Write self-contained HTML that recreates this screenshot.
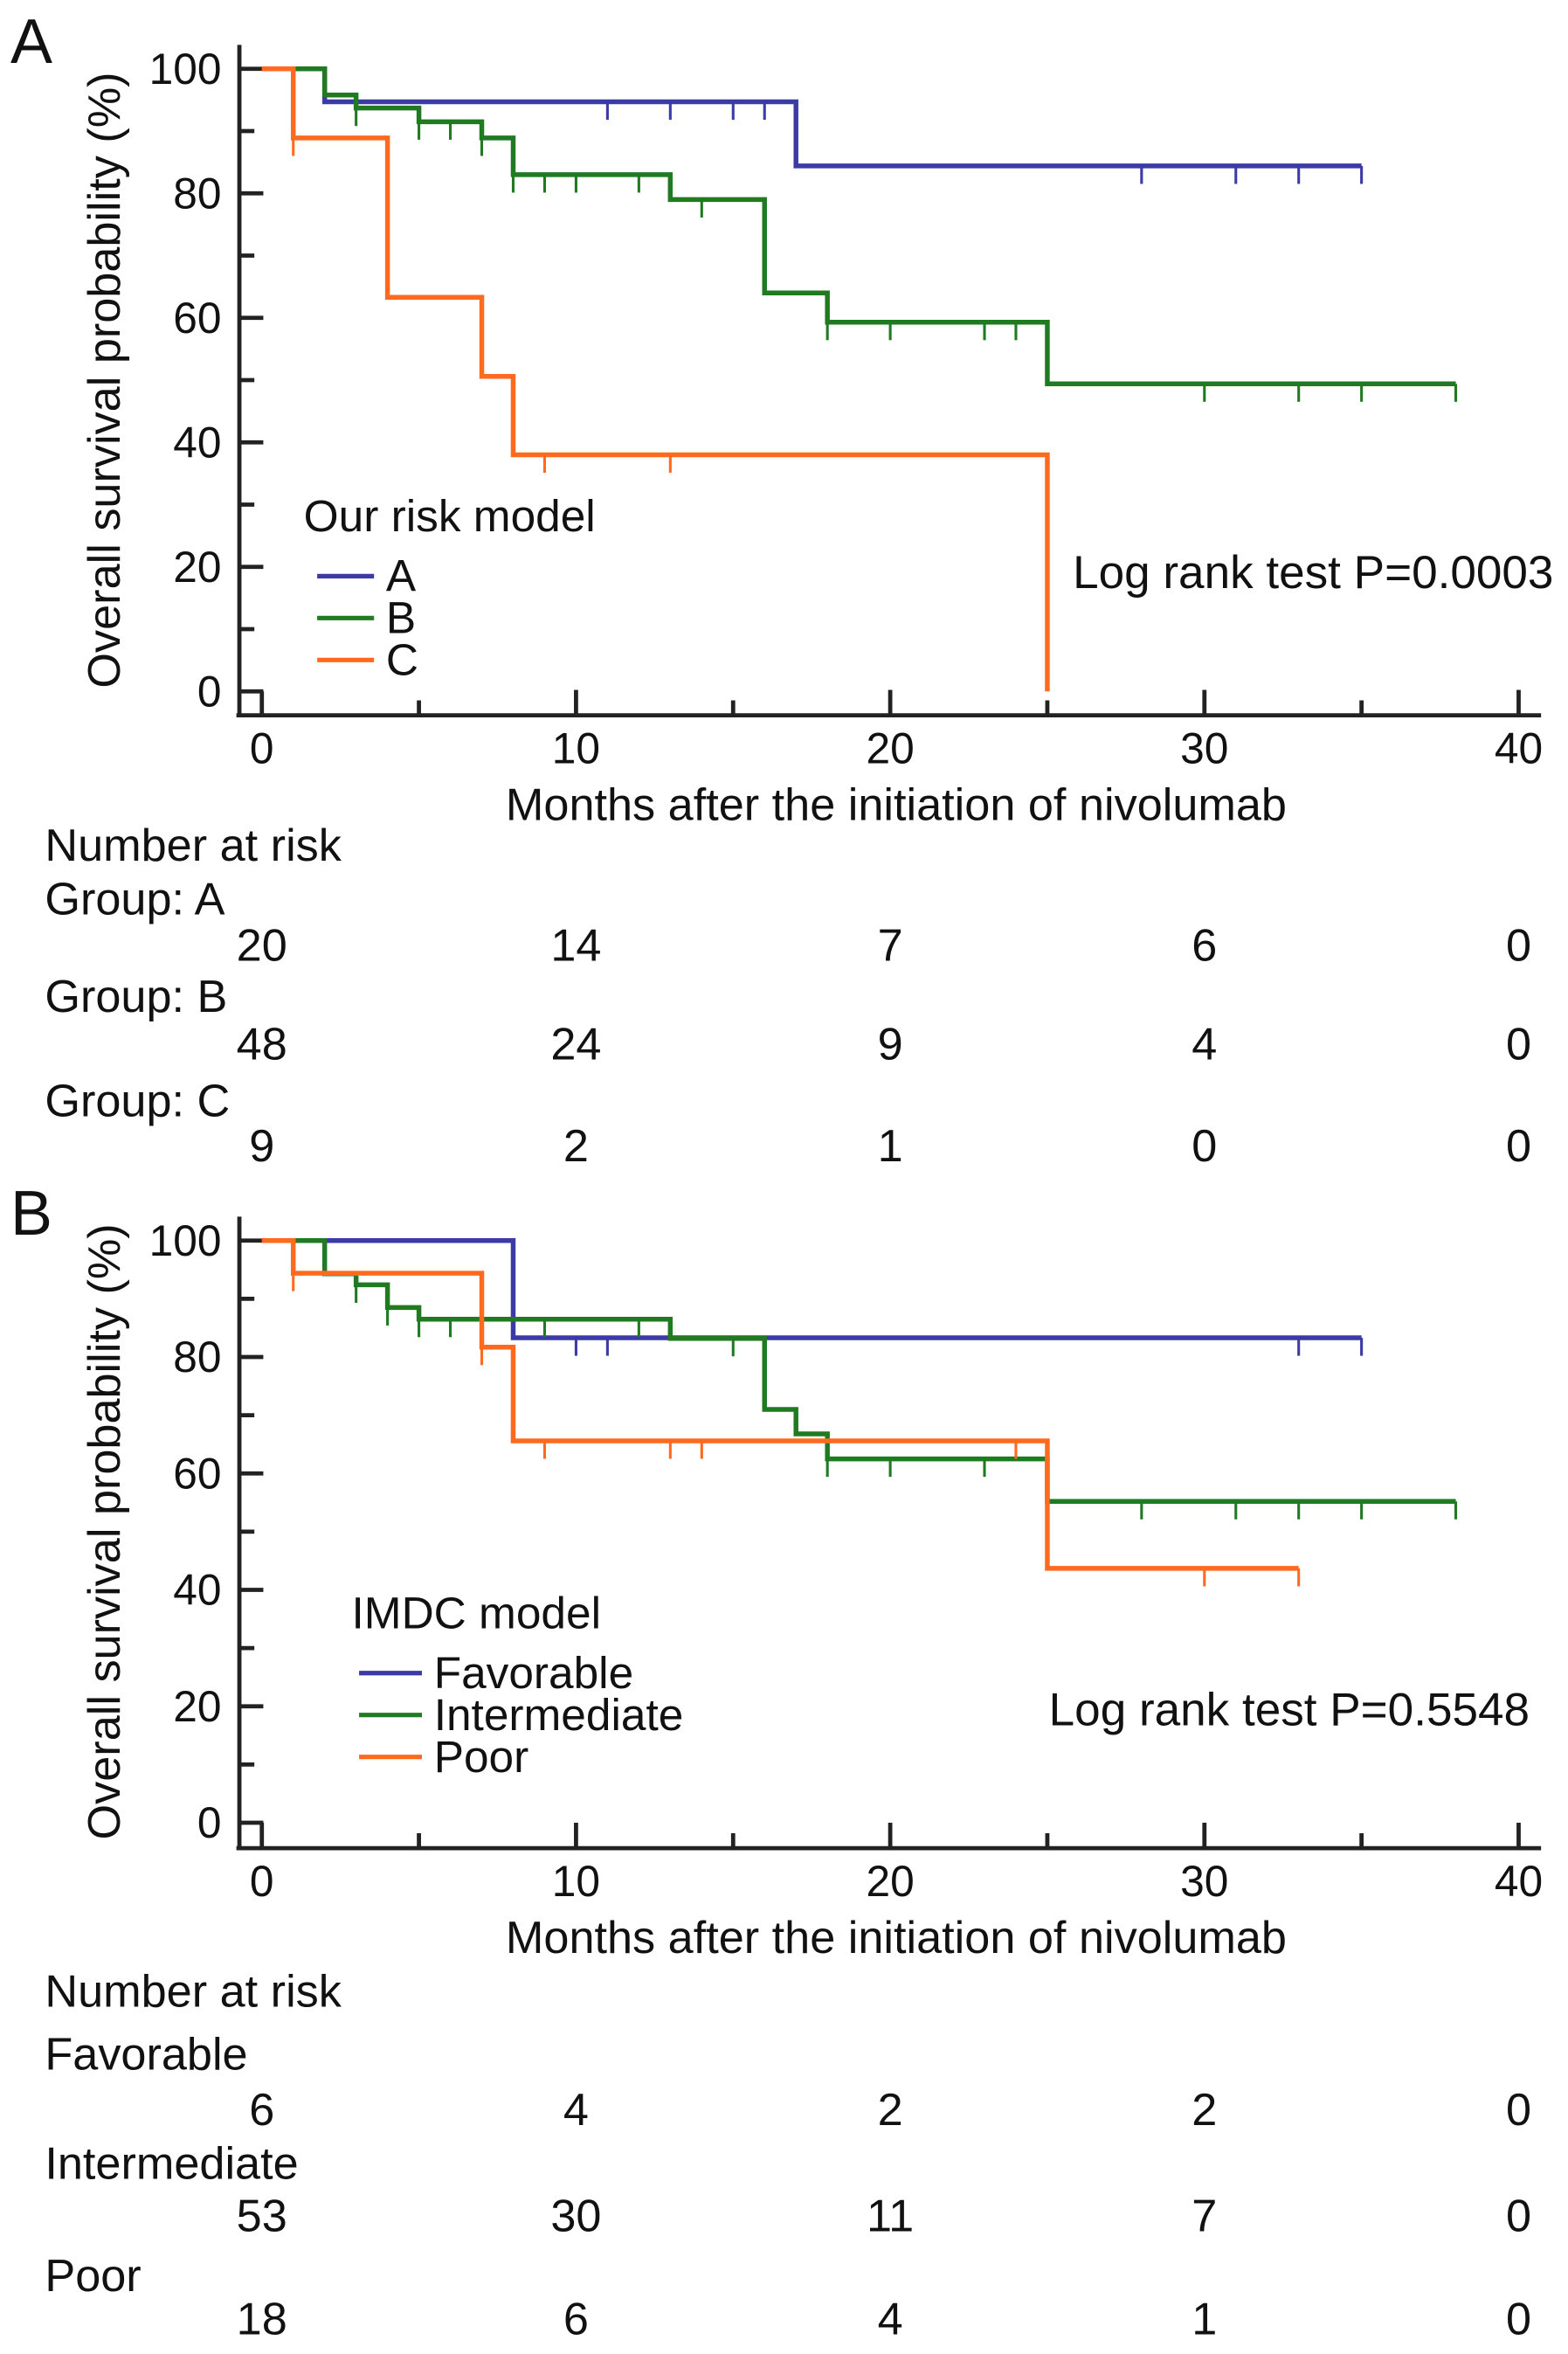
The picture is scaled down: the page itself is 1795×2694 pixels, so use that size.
<!DOCTYPE html>
<html><head><meta charset="utf-8"><style>
html,body{margin:0;padding:0;background:#fff;width:1795px;height:2694px;overflow:hidden}
svg{display:block}
text{font-family:"Liberation Sans",sans-serif;fill:#111}
</style></head><body>
<svg id="fig" width="1795" height="2694" viewBox="0 0 1048 1573" preserveAspectRatio="none" xmlns="http://www.w3.org/2000/svg"></svg>
<script>
// ---------- data ----------
const xTicks = [0,10,20,30,40];
const yTicks = [0,20,40,60,80,100];
// Panel A
const aNames = ["A","B","C"];
const aTimesA = [0,2,17,35];           const aSurvA = [100,94.7,84.4,84.4];
const aCensA = [11,13,15,16,28,31,33,35];
const aTimesB = [0,2,3,5,7,8,13,16,18,25,38]; const aSurvB = [100,95.8,93.7,91.5,88.9,83,79,64,59.3,49.4,49.4];
const aCensB = [3,5,6,7,8,9,10,12,14,18,20,23,24,30,33,35,38];
const aTimesC = [0,1,4,7,8,25,25];     const aSurvC = [100,88.9,63.3,50.6,38,0,0];
const aCensC = [1,9,13];
const aRiskA = [20,14,7,6,0];
const aRiskB = [48,24,9,4,0];
const aRiskC = [9,2,1,0,0];
// Panel B
const bNames = ["Favorable","Intermediate","Poor"];
const bTimesF = [0,8,35];              const bSurvF = [100,83.3,83.3];
const bCensF = [10,11,33,35];
const bTimesI = [0,2,3,4,5,13,16,17,18,25,38]; const bSurvI = [100,94.3,92.4,88.5,86.5,83.2,71,66.8,62.5,55.2,55.2];
const bCensI = [3,4,5,6,9,12,15,18,20,23,28,31,33,35,38];
const bTimesP = [0,1,7,8,25,33];       const bSurvP = [100,94.4,81.7,65.6,43.7,43.7];
const bCensP = [1,7,9,13,14,24,30,33];
const bRiskF = [6,4,2,2,0];
const bRiskI = [53,30,11,7,0];
const bRiskP = [18,6,4,1,0];

const colors = ["#3b3aa6","#1f7a22","#ff6a1f"];
const NS = "http://www.w3.org/2000/svg";
const svg = document.getElementById("fig");
function mk(tag, attrs, parent){const e=document.createElementNS(NS,tag);for(const k in attrs)e.setAttribute(k,attrs[k]);(parent||svg).appendChild(e);return e;}

function panel(P){
  const g = mk("g",{});
  
  
  const xs = t => 175 + t*21;
  const ys = v => P.y0 - v*(P.y0-P.y100)/100;
  const lt = mk("text",{x:7,y:P.y100-4,"font-size":42},g); lt.textContent=P.id.toUpperCase();
  
  
  // axes
  const ax = mk("g",{stroke:"#222","stroke-width":2.8,fill:"none"},g);
  
  
  mk("line",{x1:160,y1:P.y100-16,x2:160,y2:P.axis},ax);
  mk("line",{x1:158,y1:P.axis,x2:1030,y2:P.axis},ax);
  for(let v=0; v<=100; v+=10){ mk("line",{x1:160,y1:ys(v),x2:v%20==0?176:170,y2:ys(v)},ax); }
  mk("line",{x1:xs(0),y1:ys(0),x2:xs(0),y2:P.axis},ax);
  for(let t=0;t<=40;t+=5){ if(t==0) continue; mk("line",{x1:xs(t),y1:P.axis,x2:xs(t),y2:P.axis-(t%10==0?17:10)},ax); }
  yTicks.forEach(v=>{const e=mk("text",{x:148,y:ys(v)+10,"font-size":29,"text-anchor":"end"},g);e.textContent=v;
    
    });
  xTicks.forEach(t=>{const e=mk("text",{x:xs(t),y:P.axis+32,"font-size":29,"text-anchor":"middle"},g);e.textContent=t;
    
    });
  const yt = mk("text",{x:0,y:0,"font-size":30.5,"text-anchor":"middle",transform:`translate(80 ${(P.y0+P.y100)/2}) rotate(-90)`},g);
  yt.textContent="Overall survival probability (%)";
  
  
  const xt = mk("text",{x:599,y:P.axis+70,"font-size":30.5,"text-anchor":"middle"},g);
  xt.textContent="Months after the initiation of nivolumab";
  
  
  // curves
  P.series.forEach((s,i)=>{
    let d = `M${xs(s.t[0])},${ys(s.s[0])}`;
    for(let k=1;k<s.t.length;k++){ d += ` H${xs(s.t[k])} V${ys(s.s[k])}`; }
    const p = mk("path",{d:d,fill:"none",stroke:colors[i],"stroke-width":3.2},g);
    
    
    s.c.forEach(ct=>{
      let v = s.s[0];
      for(let k=0;k<s.t.length;k++){ if(s.t[k]<=ct) v = s.s[k]; }
      const cm = mk("line",{x1:xs(ct),y1:ys(v),x2:xs(ct),y2:ys(v)+12,stroke:colors[i],"stroke-width":1.8},g);
      
      
    });
  });
  // legend
  const lg = mk("g",{},g);
  
  
  const tt = mk("text",{x:P.legX,y:P.legY,"font-size":30},lg); tt.textContent=P.legTitle;
  
  
  P.series.forEach((s,i)=>{
    const yy = P.legY+40+i*28;
    mk("line",{x1:P.legLine,y1:yy-10,x2:P.legLine+(P.id=="a"?38:42),y2:yy-10,stroke:colors[i],"stroke-width":3},lg);
    const e = mk("text",{x:P.legLine+(P.id=="a"?46:50),y:yy,"font-size":30},lg); e.textContent=s.name;
    
    
  });
  const lr = mk("text",{x:P.lrX,y:P.lrY,"font-size":31},g); lr.textContent=P.lr;
  
  
  // risk table
  const rt = mk("g",{},g);
  
  
  const nr = mk("text",{x:30,y:P.riskHead,"font-size":30.5},rt); nr.textContent="Number at risk";
  P.rows.forEach(r=>{
    const l = mk("text",{x:30,y:r.ly,"font-size":30.5},rt); l.textContent=r.label;
    
    
    r.vals.forEach((v,k)=>{
      const e = mk("text",{x:xs(xTicks[k]),y:r.vy,"font-size":30.5,"text-anchor":"middle"},rt); e.textContent=v;
      
      
    });
  });
}

panel({id:"a", y100:46, y0:462, axis:478,
  series:[{name:aNames[0],t:aTimesA,s:aSurvA,c:aCensA},{name:aNames[1],t:aTimesB,s:aSurvB,c:aCensB},{name:aNames[2],t:aTimesC,s:aSurvC,c:aCensC}],
  legTitle:"Our risk model", legX:203, legY:355, legLine:212,
  lr:"Log rank test P=0.0003", lrX:717, lrY:393,
  riskHead:575,
  rows:[{label:"Group: A",ly:611,vy:642,vals:aRiskA},{label:"Group: B",ly:676,vy:708,vals:aRiskB},{label:"Group: C",ly:746,vy:776,vals:aRiskC}]
});
panel({id:"b", y100:829, y0:1218, axis:1235,
  series:[{name:bNames[0],t:bTimesF,s:bSurvF,c:bCensF},{name:bNames[1],t:bTimesI,s:bSurvI,c:bCensI},{name:bNames[2],t:bTimesP,s:bSurvP,c:bCensP}],
  legTitle:"IMDC model", legX:235, legY:1088, legLine:240,
  lr:"Log rank test  P=0.5548", lrX:701, lrY:1153,
  riskHead:1341,
  rows:[{label:"Favorable",ly:1383,vy:1420,vals:bRiskF},{label:"Intermediate",ly:1456,vy:1491,vals:bRiskI},{label:"Poor",ly:1531,vy:1560,vals:bRiskP}]
});
</script>
</body></html>
